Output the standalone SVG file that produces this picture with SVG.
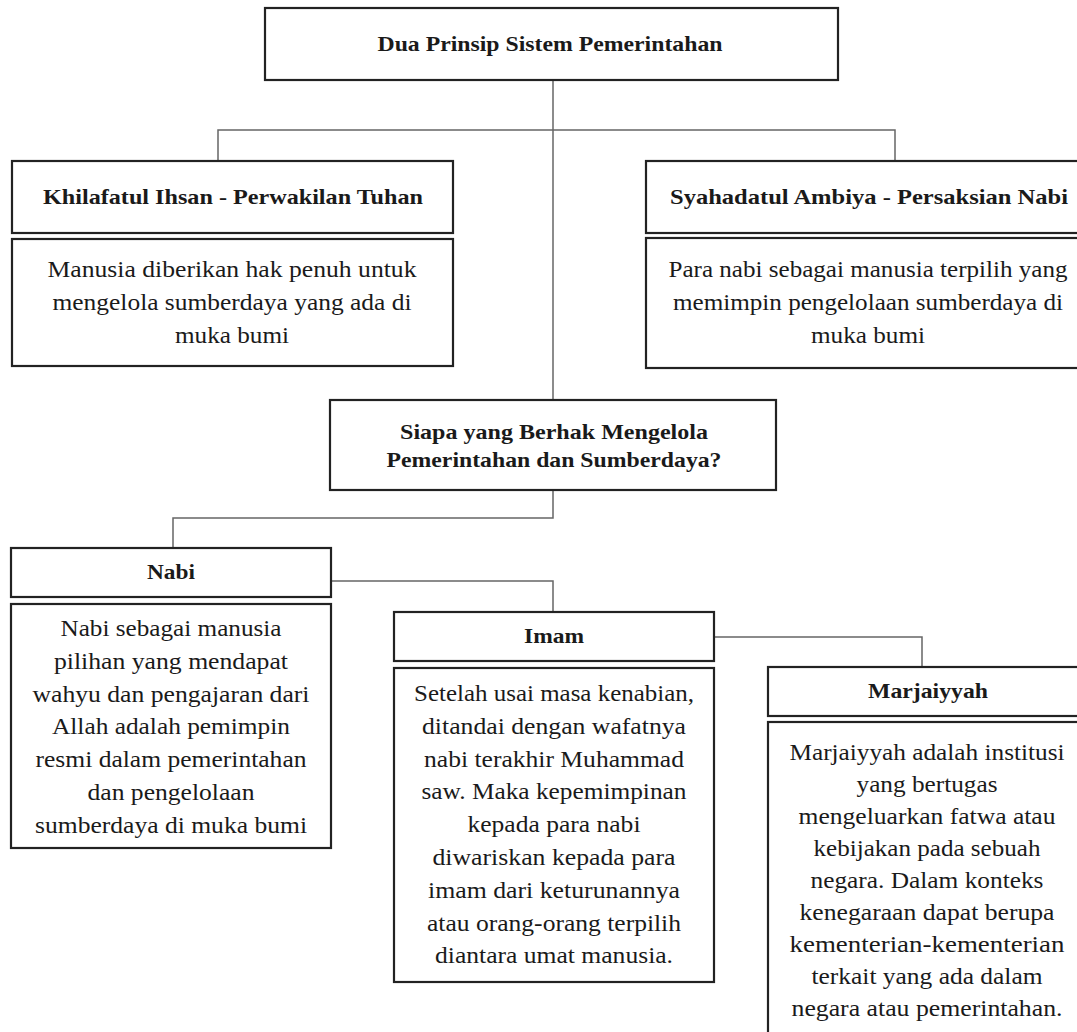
<svg xmlns="http://www.w3.org/2000/svg" width="1077" height="1032" viewBox="0 0 1077 1032">
<style>
.box{fill:#fff;stroke:#222;stroke-width:2.2}
.con{fill:none;stroke:#666;stroke-width:1.5}
.h{font-family:"Liberation Serif",serif;font-weight:bold;font-size:22px;fill:#1a1a1a;text-anchor:middle}
.b{font-family:"Liberation Serif",serif;font-size:23px;fill:#1a1a1a;text-anchor:middle}
</style>
<rect width="1077" height="1032" fill="#fff"/>
<g id="connectors">
<path class="con" d="M553 80V400"/>
<path class="con" d="M218 161V130H895V161"/>
<path class="con" d="M553 490V518H173V548"/>
<path class="con" d="M331 581H553V612"/>
<path class="con" d="M714 637H922V667"/>
</g>
<g id="title">
<rect class="box" x="265" y="8" width="573" height="72"/>
<text class="h" x="550" y="51" textLength="345" lengthAdjust="spacingAndGlyphs">Dua Prinsip Sistem Pemerintahan</text>
</g>
<g id="khilafatul">
<rect class="box" x="12" y="161" width="441" height="72"/>
<text class="h" x="233" y="204" textLength="380" lengthAdjust="spacingAndGlyphs">Khilafatul Ihsan - Perwakilan Tuhan</text>
</g>
<g id="khilafatul-desc">
<rect class="box" x="12" y="239" width="441" height="127"/>
<text class="b" x="232" y="277" textLength="369" lengthAdjust="spacingAndGlyphs">Manusia diberikan hak penuh untuk</text>
<text class="b" x="232" y="310" textLength="359" lengthAdjust="spacingAndGlyphs">mengelola sumberdaya yang ada di</text>
<text class="b" x="232" y="343" textLength="114" lengthAdjust="spacingAndGlyphs">muka bumi</text>
</g>
<g id="syahadatul">
<rect class="box" x="646" y="161" width="446" height="72"/>
<text class="h" x="869" y="204" textLength="398" lengthAdjust="spacingAndGlyphs">Syahadatul Ambiya - Persaksian Nabi</text>
</g>
<g id="syahadatul-desc">
<rect class="box" x="646" y="238" width="446" height="130"/>
<text class="b" x="868" y="277" textLength="399" lengthAdjust="spacingAndGlyphs">Para nabi sebagai manusia terpilih yang</text>
<text class="b" x="868" y="310" textLength="390" lengthAdjust="spacingAndGlyphs">memimpin pengelolaan sumberdaya di</text>
<text class="b" x="868" y="343" textLength="114" lengthAdjust="spacingAndGlyphs">muka bumi</text>
</g>
<g id="siapa">
<rect class="box" x="330" y="400" width="446" height="90"/>
<text class="h" x="554" y="439" textLength="308" lengthAdjust="spacingAndGlyphs">Siapa yang Berhak Mengelola</text>
<text class="h" x="554" y="467" textLength="335" lengthAdjust="spacingAndGlyphs">Pemerintahan dan Sumberdaya?</text>
</g>
<g id="nabi">
<rect class="box" x="11" y="548" width="320" height="49"/>
<text class="h" x="171" y="579" textLength="48" lengthAdjust="spacingAndGlyphs">Nabi</text>
</g>
<g id="nabi-desc">
<rect class="box" x="11" y="604" width="320" height="244"/>
<text class="b" x="171" y="636" textLength="221" lengthAdjust="spacingAndGlyphs">Nabi sebagai manusia</text>
<text class="b" x="171" y="669" textLength="234" lengthAdjust="spacingAndGlyphs">pilihan yang mendapat</text>
<text class="b" x="171" y="702" textLength="277" lengthAdjust="spacingAndGlyphs">wahyu dan pengajaran dari</text>
<text class="b" x="171" y="734" textLength="238" lengthAdjust="spacingAndGlyphs">Allah adalah pemimpin</text>
<text class="b" x="171" y="767" textLength="271" lengthAdjust="spacingAndGlyphs">resmi dalam pemerintahan</text>
<text class="b" x="171" y="800" textLength="167" lengthAdjust="spacingAndGlyphs">dan pengelolaan</text>
<text class="b" x="171" y="833" textLength="272" lengthAdjust="spacingAndGlyphs">sumberdaya di muka bumi</text>
</g>
<g id="imam">
<rect class="box" x="394" y="612" width="320" height="49"/>
<text class="h" x="554" y="643" textLength="60" lengthAdjust="spacingAndGlyphs">Imam</text>
</g>
<g id="imam-desc">
<rect class="box" x="394" y="668" width="320" height="314"/>
<text class="b" x="554" y="701" textLength="280" lengthAdjust="spacingAndGlyphs">Setelah usai masa kenabian,</text>
<text class="b" x="554" y="734" textLength="264" lengthAdjust="spacingAndGlyphs">ditandai dengan wafatnya</text>
<text class="b" x="554" y="767" textLength="260" lengthAdjust="spacingAndGlyphs">nabi terakhir Muhammad</text>
<text class="b" x="554" y="799" textLength="265" lengthAdjust="spacingAndGlyphs">saw. Maka kepemimpinan</text>
<text class="b" x="554" y="832" textLength="173" lengthAdjust="spacingAndGlyphs">kepada para nabi</text>
<text class="b" x="554" y="865" textLength="243" lengthAdjust="spacingAndGlyphs">diwariskan kepada para</text>
<text class="b" x="554" y="898" textLength="252" lengthAdjust="spacingAndGlyphs">imam dari keturunannya</text>
<text class="b" x="554" y="931" textLength="254" lengthAdjust="spacingAndGlyphs">atau orang-orang terpilih</text>
<text class="b" x="554" y="963" textLength="238" lengthAdjust="spacingAndGlyphs">diantara umat manusia.</text>
</g>
<g id="marjaiyyah">
<rect class="box" x="768" y="667" width="320" height="49"/>
<text class="h" x="928" y="698" textLength="120" lengthAdjust="spacingAndGlyphs">Marjaiyyah</text>
</g>
<g id="marjaiyyah-desc">
<rect class="box" x="768" y="722" width="320" height="330"/>
<text class="b" x="927" y="760" textLength="275" lengthAdjust="spacingAndGlyphs">Marjaiyyah adalah institusi</text>
<text class="b" x="927" y="792" textLength="141" lengthAdjust="spacingAndGlyphs">yang bertugas</text>
<text class="b" x="927" y="824" textLength="257" lengthAdjust="spacingAndGlyphs">mengeluarkan fatwa atau</text>
<text class="b" x="927" y="856" textLength="227" lengthAdjust="spacingAndGlyphs">kebijakan pada sebuah</text>
<text class="b" x="927" y="888" textLength="233" lengthAdjust="spacingAndGlyphs">negara. Dalam konteks</text>
<text class="b" x="927" y="920" textLength="255" lengthAdjust="spacingAndGlyphs">kenegaraan dapat berupa</text>
<text class="b" x="927" y="952" textLength="275" lengthAdjust="spacingAndGlyphs">kementerian-kementerian</text>
<text class="b" x="927" y="984" textLength="231" lengthAdjust="spacingAndGlyphs">terkait yang ada dalam</text>
<text class="b" x="927" y="1016" textLength="271" lengthAdjust="spacingAndGlyphs">negara atau pemerintahan.</text>
</g>
</svg>
